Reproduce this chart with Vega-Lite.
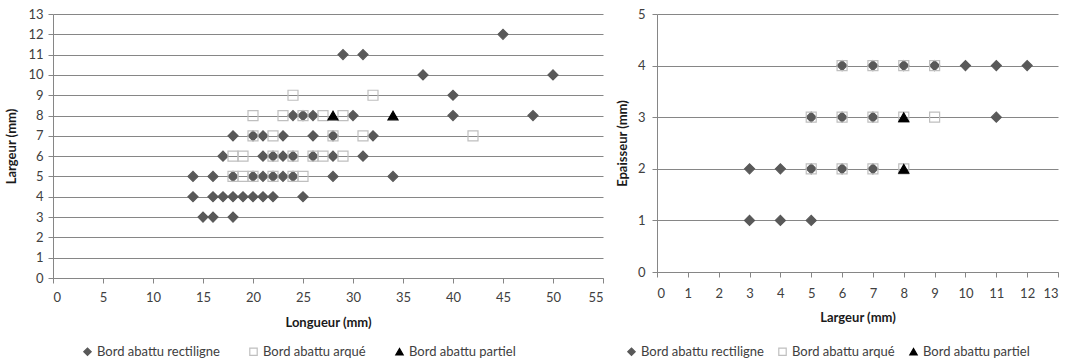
{
  "$schema": "https://vega.github.io/schema/vega-lite/v6.json",
  "background": "white",
  "padding": {"left": 5, "top": 8, "right": 0, "bottom": 0},
  "spacing": 12,
  "config": {
    "font": "Lato",
    "view": {"stroke": null},
    "axis": {
      "labelFont": "Lato", "labelFontSize": 13, "labelColor": "#404040",
      "titleFont": "Lato", "titleFontSize": 13, "titleFontWeight": "bold", "titleColor": "#1a1a1a",
      "domainColor": "#868686", "tickColor": "#868686", "gridColor": "#868686", "gridOpacity": 1,
      "tickSize": 5
    },
    "legend": {
      "labelFont": "Lato", "labelFontSize": 13, "labelColor": "#404040",
      "symbolSize": 55, "symbolStrokeWidth": 1.2, "labelOffset": 3, "padding": 0
    }
  },
  "datasets": {
    "lon": [
      {"L": 45, "W": 12, "t": "Bord abattu rectiligne"},
      {"L": 29, "W": 11, "t": "Bord abattu rectiligne"},
      {"L": 31, "W": 11, "t": "Bord abattu rectiligne"},
      {"L": 37, "W": 10, "t": "Bord abattu rectiligne"},
      {"L": 50, "W": 10, "t": "Bord abattu rectiligne"},
      {"L": 40, "W": 9, "t": "Bord abattu rectiligne"},
      {"L": 24, "W": 8, "t": "Bord abattu rectiligne"},
      {"L": 25, "W": 8, "t": "Bord abattu rectiligne"},
      {"L": 26, "W": 8, "t": "Bord abattu rectiligne"},
      {"L": 30, "W": 8, "t": "Bord abattu rectiligne"},
      {"L": 40, "W": 8, "t": "Bord abattu rectiligne"},
      {"L": 48, "W": 8, "t": "Bord abattu rectiligne"},
      {"L": 18, "W": 7, "t": "Bord abattu rectiligne"},
      {"L": 20, "W": 7, "t": "Bord abattu rectiligne"},
      {"L": 21, "W": 7, "t": "Bord abattu rectiligne"},
      {"L": 23, "W": 7, "t": "Bord abattu rectiligne"},
      {"L": 26, "W": 7, "t": "Bord abattu rectiligne"},
      {"L": 28, "W": 7, "t": "Bord abattu rectiligne"},
      {"L": 32, "W": 7, "t": "Bord abattu rectiligne"},
      {"L": 17, "W": 6, "t": "Bord abattu rectiligne"},
      {"L": 21, "W": 6, "t": "Bord abattu rectiligne"},
      {"L": 22, "W": 6, "t": "Bord abattu rectiligne"},
      {"L": 23, "W": 6, "t": "Bord abattu rectiligne"},
      {"L": 24, "W": 6, "t": "Bord abattu rectiligne"},
      {"L": 26, "W": 6, "t": "Bord abattu rectiligne"},
      {"L": 28, "W": 6, "t": "Bord abattu rectiligne"},
      {"L": 31, "W": 6, "t": "Bord abattu rectiligne"},
      {"L": 14, "W": 5, "t": "Bord abattu rectiligne"},
      {"L": 16, "W": 5, "t": "Bord abattu rectiligne"},
      {"L": 18, "W": 5, "t": "Bord abattu rectiligne"},
      {"L": 20, "W": 5, "t": "Bord abattu rectiligne"},
      {"L": 21, "W": 5, "t": "Bord abattu rectiligne"},
      {"L": 22, "W": 5, "t": "Bord abattu rectiligne"},
      {"L": 23, "W": 5, "t": "Bord abattu rectiligne"},
      {"L": 24, "W": 5, "t": "Bord abattu rectiligne"},
      {"L": 28, "W": 5, "t": "Bord abattu rectiligne"},
      {"L": 34, "W": 5, "t": "Bord abattu rectiligne"},
      {"L": 14, "W": 4, "t": "Bord abattu rectiligne"},
      {"L": 16, "W": 4, "t": "Bord abattu rectiligne"},
      {"L": 17, "W": 4, "t": "Bord abattu rectiligne"},
      {"L": 18, "W": 4, "t": "Bord abattu rectiligne"},
      {"L": 19, "W": 4, "t": "Bord abattu rectiligne"},
      {"L": 20, "W": 4, "t": "Bord abattu rectiligne"},
      {"L": 21, "W": 4, "t": "Bord abattu rectiligne"},
      {"L": 22, "W": 4, "t": "Bord abattu rectiligne"},
      {"L": 25, "W": 4, "t": "Bord abattu rectiligne"},
      {"L": 15, "W": 3, "t": "Bord abattu rectiligne"},
      {"L": 16, "W": 3, "t": "Bord abattu rectiligne"},
      {"L": 18, "W": 3, "t": "Bord abattu rectiligne"},
      {"L": 24, "W": 9, "t": "Bord abattu arqué"},
      {"L": 32, "W": 9, "t": "Bord abattu arqué"},
      {"L": 20, "W": 8, "t": "Bord abattu arqué"},
      {"L": 23, "W": 8, "t": "Bord abattu arqué"},
      {"L": 25, "W": 8, "t": "Bord abattu arqué"},
      {"L": 27, "W": 8, "t": "Bord abattu arqué"},
      {"L": 29, "W": 8, "t": "Bord abattu arqué"},
      {"L": 20, "W": 7, "t": "Bord abattu arqué"},
      {"L": 22, "W": 7, "t": "Bord abattu arqué"},
      {"L": 28, "W": 7, "t": "Bord abattu arqué"},
      {"L": 31, "W": 7, "t": "Bord abattu arqué"},
      {"L": 42, "W": 7, "t": "Bord abattu arqué"},
      {"L": 18, "W": 6, "t": "Bord abattu arqué"},
      {"L": 19, "W": 6, "t": "Bord abattu arqué"},
      {"L": 22, "W": 6, "t": "Bord abattu arqué"},
      {"L": 24, "W": 6, "t": "Bord abattu arqué"},
      {"L": 26, "W": 6, "t": "Bord abattu arqué"},
      {"L": 27, "W": 6, "t": "Bord abattu arqué"},
      {"L": 29, "W": 6, "t": "Bord abattu arqué"},
      {"L": 18, "W": 5, "t": "Bord abattu arqué"},
      {"L": 19, "W": 5, "t": "Bord abattu arqué"},
      {"L": 20, "W": 5, "t": "Bord abattu arqué"},
      {"L": 22, "W": 5, "t": "Bord abattu arqué"},
      {"L": 24, "W": 5, "t": "Bord abattu arqué"},
      {"L": 25, "W": 5, "t": "Bord abattu arqué"},
      {"L": 28, "W": 8, "t": "Bord abattu partiel"},
      {"L": 34, "W": 8, "t": "Bord abattu partiel"}
    ],
    "epa": [
      {"W": 3, "E": 1, "t": "Bord abattu rectiligne"},
      {"W": 4, "E": 1, "t": "Bord abattu rectiligne"},
      {"W": 5, "E": 1, "t": "Bord abattu rectiligne"},
      {"W": 3, "E": 2, "t": "Bord abattu rectiligne"},
      {"W": 4, "E": 2, "t": "Bord abattu rectiligne"},
      {"W": 5, "E": 2, "t": "Bord abattu rectiligne"},
      {"W": 6, "E": 2, "t": "Bord abattu rectiligne"},
      {"W": 7, "E": 2, "t": "Bord abattu rectiligne"},
      {"W": 5, "E": 3, "t": "Bord abattu rectiligne"},
      {"W": 6, "E": 3, "t": "Bord abattu rectiligne"},
      {"W": 7, "E": 3, "t": "Bord abattu rectiligne"},
      {"W": 11, "E": 3, "t": "Bord abattu rectiligne"},
      {"W": 6, "E": 4, "t": "Bord abattu rectiligne"},
      {"W": 7, "E": 4, "t": "Bord abattu rectiligne"},
      {"W": 8, "E": 4, "t": "Bord abattu rectiligne"},
      {"W": 9, "E": 4, "t": "Bord abattu rectiligne"},
      {"W": 10, "E": 4, "t": "Bord abattu rectiligne"},
      {"W": 11, "E": 4, "t": "Bord abattu rectiligne"},
      {"W": 12, "E": 4, "t": "Bord abattu rectiligne"},
      {"W": 5, "E": 2, "t": "Bord abattu arqué"},
      {"W": 6, "E": 2, "t": "Bord abattu arqué"},
      {"W": 7, "E": 2, "t": "Bord abattu arqué"},
      {"W": 8, "E": 2, "t": "Bord abattu arqué"},
      {"W": 5, "E": 3, "t": "Bord abattu arqué"},
      {"W": 6, "E": 3, "t": "Bord abattu arqué"},
      {"W": 7, "E": 3, "t": "Bord abattu arqué"},
      {"W": 8, "E": 3, "t": "Bord abattu arqué"},
      {"W": 9, "E": 3, "t": "Bord abattu arqué"},
      {"W": 6, "E": 4, "t": "Bord abattu arqué"},
      {"W": 7, "E": 4, "t": "Bord abattu arqué"},
      {"W": 8, "E": 4, "t": "Bord abattu arqué"},
      {"W": 9, "E": 4, "t": "Bord abattu arqué"},
      {"W": 8, "E": 2, "t": "Bord abattu partiel"},
      {"W": 8, "E": 3, "t": "Bord abattu partiel"}
    ]
  },
  "resolve": {
    "scale": {"shape": "independent", "fill": "independent", "stroke": "independent"}
  },
  "hconcat": [
    {
      "width": 550,
      "height": 264,
      "data": {"name": "lon"},
      "mark": {"type": "point", "opacity": 1, "strokeWidth": 1.2, "size": 100},
      "encoding": {
        "x": {
          "field": "L", "type": "quantitative",
          "scale": {"domain": [0, 55], "nice": false, "zero": true},
          "axis": {"values": [0, 5, 10, 15, 20, 25, 30, 35, 40, 45, 50, 55], "title": "Longueur (mm)", "grid": false, "labelPadding": 8, "titlePadding": 12}
        },
        "y": {
          "field": "W", "type": "quantitative",
          "scale": {"domain": [0, 13], "nice": false},
          "axis": {"values": [0, 1, 2, 3, 4, 5, 6, 7, 8, 9, 10, 11, 12, 13], "title": "Largeur (mm)", "grid": true, "labelPadding": 5, "titlePadding": 9}
        },
        "shape": {
          "field": "t", "type": "nominal",
          "scale": {"domain": ["Bord abattu rectiligne", "Bord abattu arqué", "Bord abattu partiel"], "range": ["diamond", "square", "triangle-up"]},
          "legend": {"title": null, "orient": "none", "legendX": 28, "legendY": 331, "direction": "horizontal", "columnPadding": 27}
        },
        "fill": {
          "field": "t", "type": "nominal",
          "scale": {"domain": ["Bord abattu rectiligne", "Bord abattu arqué", "Bord abattu partiel"], "range": ["#595959", "transparent", "#000000"]},
          "legend": {"title": null, "orient": "none", "legendX": 28, "legendY": 331, "direction": "horizontal", "columnPadding": 27}
        },
        "stroke": {
          "field": "t", "type": "nominal",
          "scale": {"domain": ["Bord abattu rectiligne", "Bord abattu arqué", "Bord abattu partiel"], "range": ["#595959", "#bfbfbf", "#000000"]},
          "legend": {"title": null, "orient": "none", "legendX": 28, "legendY": 331, "direction": "horizontal", "columnPadding": 27}
        }
      }
    },
    {
      "width": 401,
      "height": 258,
      "data": {"name": "epa"},
      "mark": {"type": "point", "opacity": 1, "strokeWidth": 1.2, "size": 100},
      "encoding": {
        "x": {
          "field": "W", "type": "quantitative",
          "scale": {"domain": [0, 13], "nice": false},
          "axis": {"values": [0, 1, 2, 3, 4, 5, 6, 7, 8, 9, 10, 11, 12, 13], "title": "Largeur (mm)", "grid": false, "labelPadding": 10, "titlePadding": 11}
        },
        "y": {
          "field": "E", "type": "quantitative",
          "scale": {"domain": [0, 5], "nice": false},
          "axis": {"values": [0, 1, 2, 3, 4, 5], "title": "Epaisseur (mm)", "grid": true, "labelPadding": 7, "titlePadding": 8}
        },
        "shape": {
          "field": "t", "type": "nominal",
          "scale": {"domain": ["Bord abattu rectiligne", "Bord abattu arqué", "Bord abattu partiel"], "range": ["diamond", "square", "triangle-up"]},
          "legend": {"title": null, "orient": "none", "legendX": -32, "legendY": 331, "direction": "horizontal", "columnPadding": 12}
        },
        "fill": {
          "field": "t", "type": "nominal",
          "scale": {"domain": ["Bord abattu rectiligne", "Bord abattu arqué", "Bord abattu partiel"], "range": ["#595959", "transparent", "#000000"]},
          "legend": {"title": null, "orient": "none", "legendX": -32, "legendY": 331, "direction": "horizontal", "columnPadding": 12}
        },
        "stroke": {
          "field": "t", "type": "nominal",
          "scale": {"domain": ["Bord abattu rectiligne", "Bord abattu arqué", "Bord abattu partiel"], "range": ["#595959", "#bfbfbf", "#000000"]},
          "legend": {"title": null, "orient": "none", "legendX": -32, "legendY": 331, "direction": "horizontal", "columnPadding": 12}
        }
      }
    }
  ]
}
